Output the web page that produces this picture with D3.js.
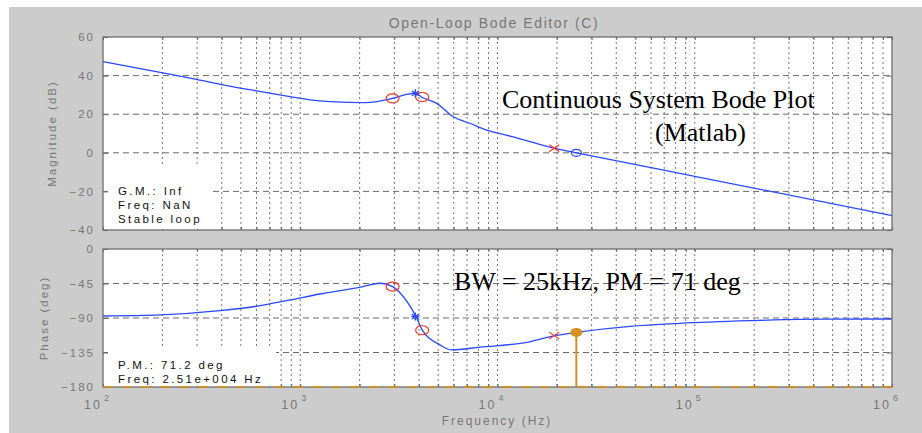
<!DOCTYPE html>
<html>
<head>
<meta charset="utf-8">
<script src="https://cdn.jsdelivr.net/npm/d3@7"></script>
<style>
  body { margin: 0; background: #fff; }
  svg { display: block; }
  .lbl { font-family: "Liberation Sans", Arial, sans-serif; font-size: 11.5px; fill: #777; letter-spacing: 2px; }
  .box { font-family: "Liberation Sans", Arial, sans-serif; font-size: 11.5px; fill: #111; letter-spacing: 2.4px; }
  .note { font-family: "Liberation Serif", "Times New Roman", serif; font-size: 26px; fill: #000; }
</style>
</head>
<body>
<script>
// magnitude curve
var magFreq = [100, 195, 293, 392, 590, 887, 1120, 1414, 2128, 2939, 3462, 3814, 4139, 4912, 5964, 7246, 8806, 11556, 14597, 19315, 25100, 100000, 1000000];
var magDb   = [47.2, 41.7, 38.2, 35.5, 32.2, 29.1, 27.4, 26.5, 26.0, 28.2, 30.3, 30.8, 28.8, 25.6, 18.7, 15.3, 11.8, 8.7, 5.8, 2.4, 0, -12.2, -32.5];

// phase curve
var phFreq = [100, 195, 392, 590, 887, 1259, 1414, 2079, 2535, 2939, 3201, 3859, 4173, 5107, 5853, 8143, 14597, 19540, 25100, 46900, 84030, 190200, 340900, 1000000];
var phDeg  = [-87.4, -86, -80.5, -75, -66.5, -58.7, -56.5, -49, -44.7, -49, -57, -88, -106.5, -125, -131.7, -128, -121, -113, -108.8, -101, -97, -93.5, -91.8, -91.3];

// markers
var zeroFreq = [2939, 4150];      // red circles
var zeroMag = [28.2, 28.9];
var zeroPh = [-49, -106];
var starFreq = 3830, starMag = 30.8, starPh = -88;
var poleFreq = 19400, poleMag = 2.4, polePh = -113;
var wcFreq = 25100, wcMag = 0, wcPh = -108.8;

var magTicks = [-40, -20, 0, 20, 40, 60];
var phTicks = [-180, -135, -90, -45, 0];
var decades = [2, 3, 4, 5, 6];

var W = 922, H = 433;
var L = 103, R = 892;

var svg = d3.select("body").append("svg").attr("width", W).attr("height", H);

svg.append("rect").attr("x", 9).attr("y", 7).attr("width", W - 9).attr("height", H - 7).style("fill", "#cccccc");

var x = d3.scaleLog().domain([1e2, 1e6]).range([L, R]);
var yMag = d3.scaleLinear().domain([-40, 60]).range([230, 37]);
var yPh = d3.scaleLinear().domain([-180, 0]).range([387, 249]);

// all minor grid positions
var gridF = [];
for (var d = 2; d < 6; d++) {
  for (var m = 1; m < 10; m++) gridF.push(m * Math.pow(10, d));
}

function panel(y, ticks) {
  var top = y.range()[1], bot = y.range()[0];
  var g = svg.append("g");
  g.append("rect").attr("x", L).attr("y", top).attr("width", R - L).attr("height", bot - top).style("fill", "#fff");

  g.selectAll(".vg").data(gridF.slice(1)).enter().append("line")
    .attr("x1", function(f) { return x(f); }).attr("x2", function(f) { return x(f); })
    .attr("y1", top).attr("y2", bot)
    .style("stroke", "#777").style("stroke-width", 1).style("stroke-dasharray", "2,3");

  g.selectAll(".hg").data(ticks.slice(1, -1)).enter().append("line")
    .attr("x1", L).attr("x2", R)
    .attr("y1", function(v) { return y(v); }).attr("y2", function(v) { return y(v); })
    .style("stroke", "#6a6a6a").style("stroke-width", 1).style("stroke-dasharray", "6,4");

  // ticks
  g.append("g").attr("transform", "translate(0," + bot + ")")
    .call(d3.axisBottom(x).tickValues(gridF.concat([1e6])).tickSize(-3).tickFormat(""))
    .call(function(a) { a.select(".domain").remove(); a.selectAll("line").style("stroke", "#666"); });
  g.append("g").attr("transform", "translate(0," + top + ")")
    .call(d3.axisTop(x).tickValues(gridF.concat([1e6])).tickSize(-3).tickFormat(""))
    .call(function(a) { a.select(".domain").remove(); a.selectAll("line").style("stroke", "#666"); });
  g.append("g").attr("transform", "translate(" + R + ",0)")
    .call(d3.axisRight(y).tickValues(ticks).tickSize(-5).tickFormat(""))
    .call(function(a) { a.select(".domain").remove(); a.selectAll("line").style("stroke", "#666"); });
  g.append("g").attr("transform", "translate(" + L + ",0)")
    .call(d3.axisLeft(y).tickValues(ticks).tickSize(-5).tickPadding(8))
    .call(function(a) {
      a.select(".domain").remove();
      a.selectAll("line").style("stroke", "#666");
      a.selectAll("text").attr("class", "lbl").attr("font-size", null).attr("font-family", null).attr("fill", null);
    });
  return g;
}

var gMag = panel(yMag, magTicks);
var gPh = panel(yPh, phTicks);

// info boxes
gMag.append("rect").attr("x", 108).attr("y", 165).attr("width", 104).attr("height", 64).style("fill", "#fff");
gMag.append("text").attr("class", "box").attr("x", 118).attr("y", 195).text("G.M.: Inf");
gMag.append("text").attr("class", "box").attr("x", 118).attr("y", 209).text("Freq: NaN");
gMag.append("text").attr("class", "box").attr("x", 118).attr("y", 223).text("Stable loop");

gPh.append("rect").attr("x", 108).attr("y", 348).attr("width", 168).attr("height", 38).style("fill", "#fff");
gPh.append("text").attr("class", "box").attr("x", 118).attr("y", 369).text("P.M.: 71.2 deg");
gPh.append("text").attr("class", "box").attr("x", 118).attr("y", 383).text("Freq: 2.51e+004 Hz");

var blue = "#2a48ff", red = "#ff3322", orange = "#d8901c";

var magLine = d3.line().x(function(d) { return x(d[0]); }).y(function(d) { return yMag(d[1]); }).curve(d3.curveMonotoneX);
var phLine = d3.line().x(function(d) { return x(d[0]); }).y(function(d) { return yPh(d[1]); }).curve(d3.curveMonotoneX);

gMag.append("path").datum(d3.zip(magFreq, magDb)).attr("d", magLine)
  .style("fill", "none").style("stroke", blue).style("stroke-width", 1.3);
gPh.append("path").datum(d3.zip(phFreq, phDeg)).attr("d", phLine)
  .style("fill", "none").style("stroke", blue).style("stroke-width", 1.3);

// borders
[gMag, gPh].forEach(function(g, i) {
  var y = i === 0 ? yMag : yPh;
  g.append("rect").attr("x", L).attr("y", y.range()[1]).attr("width", R - L).attr("height", y.range()[0] - y.range()[1])
    .style("fill", "none").style("stroke", "#6e6e6e").style("stroke-width", 1.3);
});
// -180 line in orange dashes over the bottom border
gPh.append("line").attr("x1", L).attr("x2", R).attr("y1", yPh(-180)).attr("y2", yPh(-180))
  .style("stroke", orange).style("stroke-width", 1.5).style("stroke-dasharray", "10,9");

function circle(g, cx, cy, rx, ry, col, fill) {
  g.append("ellipse").attr("cx", cx).attr("cy", cy).attr("rx", rx).attr("ry", ry)
    .style("fill", fill || "none").style("stroke", col).style("stroke-width", 1.2);
}
function cross(g, cx, cy, s, col) {
  g.append("path").attr("d", "M" + (cx - s) + "," + (cy - s * 0.7) + "L" + (cx + s) + "," + (cy + s * 0.7) +
    "M" + (cx - s) + "," + (cy + s * 0.7) + "L" + (cx + s) + "," + (cy - s * 0.7))
    .style("stroke", col).style("stroke-width", 1.2).style("fill", "none");
}
function star(g, cx, cy, col) {
  cross(g, cx, cy, 3.5, col);
  g.append("path").attr("d", "M" + (cx - 4) + "," + cy + "L" + (cx + 4) + "," + cy + "M" + cx + "," + (cy - 4) + "L" + cx + "," + (cy + 4))
    .style("stroke", col).style("stroke-width", 1.4);
}

zeroFreq.forEach(function(f, i) {
  circle(gMag, x(f), yMag(zeroMag[i]), 6.5, 4.5, red);
  circle(gPh, x(f), yPh(zeroPh[i]), 6.5, 4.5, red);
});
star(gMag, x(starFreq), yMag(starMag), blue);
star(gPh, x(starFreq), yPh(starPh), blue);
cross(gMag, x(poleFreq), yMag(poleMag), 5, red);
cross(gPh, x(poleFreq), yPh(polePh), 5, red);
circle(gMag, x(wcFreq), yMag(wcMag), 5, 3.5, blue);

// phase margin stem
gPh.append("line").attr("x1", x(wcFreq)).attr("x2", x(wcFreq)).attr("y1", yPh(wcPh)).attr("y2", yPh(-180))
  .style("stroke", orange).style("stroke-width", 2);
gPh.append("ellipse").attr("cx", x(wcFreq)).attr("cy", yPh(wcPh)).attr("rx", 6).attr("ry", 4.5).style("fill", orange);

// x tick labels 10^n
var xl = svg.append("g").selectAll("g").data(decades).enter().append("g");
xl.append("text").attr("class", "lbl").style("font-size", "12.5px").attr("x", function(d) { return x(Math.pow(10, d)) - 1; }).attr("y", 409)
  .attr("text-anchor", "end").text("10");
xl.append("text").attr("class", "lbl").style("font-size", "9px").style("letter-spacing", "0px")
  .attr("x", function(d) { return x(Math.pow(10, d)) + 1; }).attr("y", 401).text(function(d) { return d; });

// titles
svg.append("text").attr("class", "lbl").style("font-size", "14px").style("letter-spacing", "1.6px")
  .attr("x", 494).attr("y", 28).attr("text-anchor", "middle").text("Open-Loop Bode Editor (C)");
svg.append("text").attr("class", "lbl").style("font-size", "12px").attr("x", 497).attr("y", 425).attr("text-anchor", "middle").text("Frequency (Hz)");
svg.append("text").attr("class", "lbl").attr("text-anchor", "middle")
  .attr("transform", "translate(56," + yMag(10) + ") rotate(-90)").text("Magnitude (dB)");
svg.append("text").attr("class", "lbl").attr("text-anchor", "middle")
  .attr("transform", "translate(48," + yPh(-90) + ") rotate(-90)").text("Phase (deg)");

// annotations
svg.append("text").attr("class", "note").attr("x", 502).attr("y", 108).text("Continuous System Bode Plot");
svg.append("text").attr("class", "note").attr("x", 655).attr("y", 141).text("(Matlab)");
svg.append("text").attr("class", "note").attr("x", 454).attr("y", 290).text("BW = 25kHz, PM = 71 deg");
</script>
</body>
</html>
